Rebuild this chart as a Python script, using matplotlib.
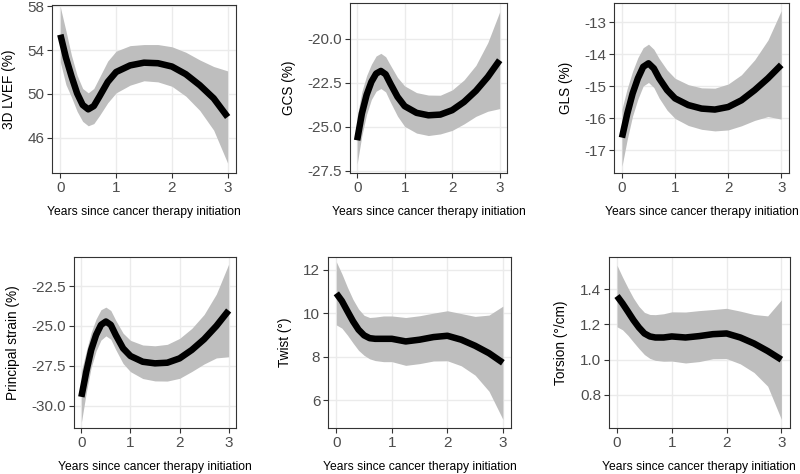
import numpy as np
import matplotlib
matplotlib.use("Agg")
import matplotlib.pyplot as plt
from matplotlib.ticker import FormatStrFormatter

plt.rcParams['font.family'] = ['Liberation Sans', 'DejaVu Sans']

# years since therapy initiation
years = [0, 0.1, 0.2, 0.3, 0.4, 0.5, 0.6, 0.7, 0.85, 1.0,
         1.25, 1.5, 1.75, 2.0, 2.25, 2.5, 2.75, 3.0]

lvef_fit = [55.4, 53.3, 51.6, 50.06, 49.0, 48.6, 48.9, 49.76, 51.1, 52.0,
            52.6, 52.85, 52.8, 52.5, 51.8, 50.8, 49.6, 47.9]
lvef_se = [2.5, 2.45, 1.9, 1.64, 1.5, 1.5, 1.6, 1.74, 1.9, 1.9,
           1.8, 1.65, 1.7, 1.8, 2.0, 2.3, 2.9, 4.2]

gcs_fit = [-25.78, -24.26, -23.2, -22.46, -21.99, -21.84, -22.03, -22.56, -23.31, -23.84,
           -24.22, -24.36, -24.32, -24.07, -23.6, -22.97, -22.18, -21.23]
gcs_se = [1.35, 1.25, 1.1, 1.0, 1.0, 1.0, 1.0, 1.05, 1.1, 1.15,
          1.15, 1.15, 1.1, 1.15, 1.25, 1.45, 1.95, 2.75]

gls_fit = [-16.61, -15.86, -15.23, -14.75, -14.39, -14.28, -14.44, -14.75, -15.12, -15.38,
           -15.59, -15.70, -15.73, -15.65, -15.44, -15.12, -14.75, -14.33]
gls_se = [0.9, 0.8, 0.7, 0.65, 0.6, 0.6, 0.6, 0.62, 0.63, 0.63,
          0.64, 0.65, 0.67, 0.72, 0.8, 0.95, 1.2, 1.7]

ps_fit = [-29.44, -27.87, -26.5, -25.56, -24.93, -24.72, -24.93, -25.56, -26.4, -26.88,
          -27.24, -27.34, -27.3, -27.03, -26.5, -25.83, -25.0, -24.03]
ps_se = [1.6, 1.3, 1.1, 1.0, 0.95, 0.9, 0.9, 0.92, 0.95, 0.98,
         1.05, 1.1, 1.15, 1.25, 1.35, 1.55, 2.0, 2.9]

twist_fit = [10.91, 10.56, 10.09, 9.63, 9.24, 8.98, 8.85, 8.82, 8.82, 8.82,
             8.70, 8.78, 8.9, 8.96, 8.78, 8.5, 8.16, 7.72]
twist_se = [1.45, 1.25, 1.1, 1.0, 0.95, 0.92, 0.95, 1.0, 1.05, 1.05,
            1.1, 1.1, 1.1, 1.15, 1.2, 1.35, 1.75, 2.6]

torsion_fit = [1.362, 1.32, 1.273, 1.225, 1.183, 1.149, 1.132, 1.126, 1.126, 1.132,
               1.126, 1.134, 1.145, 1.149, 1.126, 1.092, 1.049, 1.0]
torsion_se = [0.175, 0.15, 0.135, 0.125, 0.12, 0.12, 0.125, 0.13, 0.135, 0.14,
              0.145, 0.145, 0.14, 0.143, 0.15, 0.165, 0.2, 0.34]

xticks = [0, 1, 2, 3]
xlabel = "Years since cancer therapy initiation"


def draw_panel(fig, rect, fit, se, ylabel, yticks, ylim, fmt):
    ax = fig.add_axes(rect)
    fit = np.array(fit)
    se = np.array(se)
    ax.fill_between(years, fit - se, fit + se, color='#bebebe', lw=0, zorder=2)
    ax.plot(years, fit, color='black', lw=4.7, solid_capstyle='butt',
            solid_joinstyle='round', zorder=3)

    ax.set_xlim(-0.15, 3.15)
    ax.set_ylim(*ylim)
    ax.set_xticks(xticks)
    ax.set_yticks(yticks)
    ax.yaxis.set_major_formatter(FormatStrFormatter(fmt))
    ax.grid(color='#ebebeb', lw=1.0, zorder=0)
    ax.set_axisbelow(True)
    for s in ax.spines.values():
        s.set_color('#333333')
        s.set_linewidth(0.8)
    ax.tick_params(direction='out', length=3.5, width=0.8, color='#333333',
                   labelcolor='#4d4d4d', labelsize=11, pad=2)
    ax.set_ylabel(ylabel, fontsize=9.8, color='black', labelpad=8.5)
    ax.set_xlabel(xlabel, fontsize=8.7, color='black', labelpad=8)
    return ax


def main():
    fig = plt.figure(figsize=(8, 4.74), dpi=100)

    draw_panel(fig, [0.065, 0.635, 0.23, 0.3544], lvef_fit, lvef_se,
               "3D LVEF (%)", [46, 50, 54, 58], (42.8, 58.1), '%d')
    draw_panel(fig, [0.4375, 0.635, 0.196, 0.3586], gcs_fit, gcs_se,
               "GCS (%)", [-27.5, -25, -22.5, -20], (-27.64, -17.98), '%.1f')
    draw_panel(fig, [0.7675, 0.635, 0.219, 0.3586], gls_fit, gls_se,
               "GLS (%)", [-17, -16, -15, -14, -13], (-17.72, -12.39), '%d')
    draw_panel(fig, [0.0925, 0.097, 0.2025, 0.3608], ps_fit, ps_se,
               "Principal strain (%)", [-30, -27.5, -25, -22.5], (-31.39, -20.68), '%.1f')
    draw_panel(fig, [0.41, 0.097, 0.229, 0.3608], twist_fit, twist_se,
               "Twist (°)", [6, 8, 10, 12], (4.72, 12.58), '%d')
    draw_panel(fig, [0.761, 0.097, 0.226, 0.3608], torsion_fit, torsion_se,
               "Torsion (°/cm)", [0.8, 1.0, 1.2, 1.4], (0.611, 1.584), '%.1f')

    fig.savefig("out.png", dpi=100)


if __name__ == "__main__":
    main()
